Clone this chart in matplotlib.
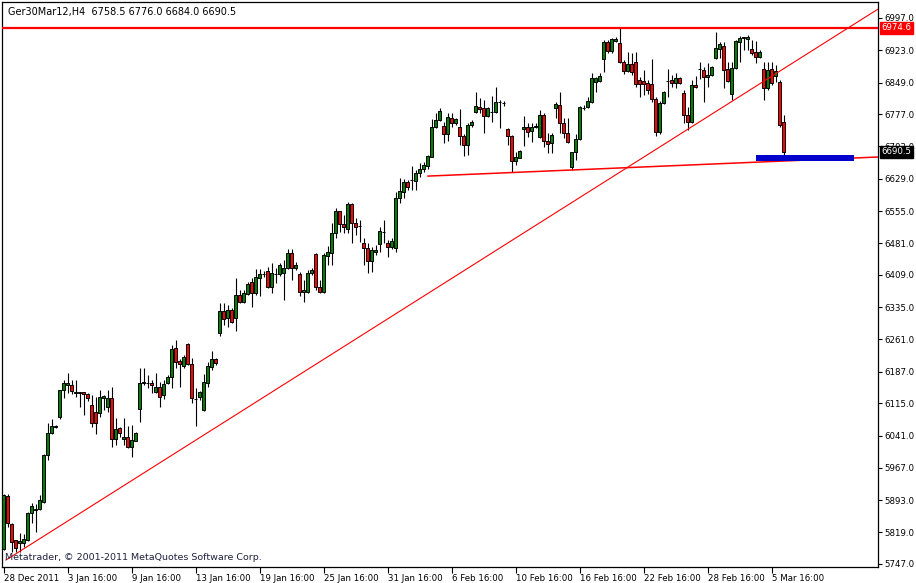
import matplotlib
matplotlib.use("Agg")
import matplotlib.pyplot as plt
from matplotlib.patches import Rectangle

# H4 bars (price units)
opens = [5781, 5903, 5839, 5802, 5795, 5795, 5802, 5864, 5871, 5873,
         5889, 5997, 6047, 6060, 6084, 6145, 6157, 6157, 6141, 6138,
         6141, 6136, 6111, 6095, 6093, 6127, 6106, 6127, 6033, 6058,
         6033, 6038, 6015, 6029, 6102, 6161, 6162, 6161, 6141, 6152,
         6134, 6161, 6175, 6241, 6212, 6200, 6251, 6205, 6125, 6129,
         6100, 6161, 6198, 6216, 6276, 6326, 6310, 6329, 6310, 6363,
         6347, 6365, 6393, 6367, 6402, 6411, 6418, 6381, 6411, 6411,
         6413, 6425, 6459, 6425, 6411, 6370, 6370, 6413, 6457, 6381,
         6370, 6452, 6459, 6505, 6555, 6525, 6514, 6571, 6528, 6521,
         6482, 6470, 6441, 6461, 6480, 6507, 6482, 6473, 6470, 6585,
         6599, 6622, 6626, 6623, 6642, 6651, 6658, 6679, 6747, 6764,
         6750, 6731, 6768, 6757, 6747, 6727, 6706, 6752, 6782, 6793,
         6791, 6773, 6782, 6782, 6805, 6803, 6743, 6727, 6670, 6677,
         6743, 6747, 6738, 6747, 6725, 6775, 6715, 6711, 6791, 6798,
         6757, 6734, 6656, 6690, 6720, 6791, 6793, 6805, 6850, 6853,
         6903, 6942, 6921, 6944, 6940, 6896, 6876, 6892, 6896, 6855,
         6853, 6848, 6846, 6812, 6736, 6802, 6853, 6855, 6848, 6860,
         6825, 6775, 6759, 6844, 6880, 6878, 6862, 6867, 6905, 6926,
         6933, 6880, 6823, 6882, 6942, 6951, 6949, 6926, 6919, 6908,
         6880, 6837, 6880, 6864, 6850, 6758.5]
highs = [5907, 5907, 5841, 5802, 5818, 5816, 5866, 5886, 5884, 5905,
         5998, 6070, 6079, 6064, 6146, 6168, 6184, 6168, 6168, 6141,
         6141, 6138, 6134, 6129, 6145, 6134, 6145, 6152, 6081, 6061,
         6081, 6063, 6065, 6049, 6196, 6196, 6180, 6168, 6184, 6164,
         6168, 6180, 6248, 6260, 6216, 6226, 6253, 6219, 6150, 6143,
         6182, 6209, 6235, 6219, 6345, 6345, 6340, 6333, 6402, 6374,
         6374, 6393, 6402, 6422, 6422, 6418, 6427, 6436, 6425, 6436,
         6443, 6468, 6468, 6438, 6416, 6397, 6420, 6425, 6459, 6397,
         6459, 6475, 6528, 6562, 6555, 6546, 6576, 6573, 6539, 6535,
         6493, 6482, 6473, 6477, 6519, 6535, 6489, 6493, 6599, 6631,
         6628, 6626, 6658, 6649, 6665, 6667, 6683, 6766, 6780, 6791,
         6759, 6780, 6780, 6768, 6789, 6731, 6757, 6764, 6828, 6814,
         6809, 6793, 6818, 6839, 6809, 6807, 6745, 6729, 6690, 6695,
         6773, 6757, 6757, 6757, 6786, 6780, 6734, 6734, 6805, 6828,
         6768, 6768, 6690, 6731, 6796, 6798, 6816, 6871, 6862, 6871,
         6947, 6947, 6951, 6954, 6974, 6901, 6919, 6917, 6919, 6862,
         6878, 6855, 6903, 6816, 6807, 6830, 6880, 6867, 6871, 6862,
         6832, 6793, 6855, 6864, 6896, 6885, 6894, 6887, 6965, 6942,
         6942, 6896, 6896, 6947, 6956, 6954, 6958, 6947, 6944, 6924,
         6896, 6896, 6896, 6889, 6855, 6776.0]
lows = [5779, 5832, 5774, 5774, 5774, 5786, 5800, 5841, 5820, 5870,
        5887, 5985, 6045, 6058, 6079, 6127, 6138, 6136, 6129, 6106,
        6088, 6120, 6061, 6045, 6084, 6100, 6095, 6015, 6019, 6038,
        6019, 6013, 5992, 6028, 6072, 6157, 6150, 6139, 6139, 6106,
        6125, 6160, 6150, 6196, 6152, 6196, 6203, 6116, 6063, 6122,
        6097, 6152, 6191, 6203, 6269, 6294, 6290, 6299, 6280, 6345,
        6345, 6363, 6335, 6363, 6361, 6404, 6379, 6367, 6390, 6407,
        6351, 6422, 6397, 6420, 6361, 6347, 6367, 6408, 6374, 6367,
        6367, 6431, 6431, 6493, 6507, 6505, 6505, 6482, 6500, 6484,
        6432, 6413, 6416, 6454, 6461, 6482, 6450, 6468, 6461, 6573,
        6585, 6603, 6603, 6603, 6633, 6644, 6651, 6679, 6745, 6761,
        6711, 6715, 6747, 6752, 6706, 6681, 6683, 6747, 6780, 6780,
        6734, 6770, 6759, 6780, 6745, 6796, 6706, 6644, 6660, 6676,
        6704, 6725, 6713, 6745, 6722, 6702, 6688, 6688, 6768, 6734,
        6722, 6711, 6649, 6672, 6718, 6786, 6791, 6802, 6828, 6850,
        6873, 6917, 6917, 6942, 6894, 6869, 6873, 6867, 6839, 6816,
        6821, 6823, 6805, 6727, 6731, 6800, 6816, 6839, 6837, 6846,
        6757, 6741, 6757, 6837, 6857, 6805, 6839, 6864, 6903, 6905,
        6837, 6850, 6809, 6880, 6896, 6924, 6924, 6912, 6894, 6905,
        6809, 6832, 6843, 6851, 6747, 6684.0]
closes = [5905, 5841, 5797, 5784, 5800, 5804, 5864, 5880, 5873, 5894,
          5997, 6047, 6063, 6062, 6145, 6161, 6161, 6143, 6138, 6141,
          6136, 6127, 6070, 6070, 6129, 6132, 6127, 6033, 6056, 6047,
          6038, 6015, 6031, 6047, 6161, 6163, 6161, 6157, 6152, 6129,
          6159, 6175, 6239, 6209, 6205, 6221, 6205, 6127, 6124, 6141,
          6164, 6200, 6216, 6207, 6326, 6308, 6329, 6301, 6363, 6347,
          6367, 6388, 6367, 6404, 6411, 6410, 6381, 6413, 6411, 6432,
          6425, 6459, 6425, 6432, 6370, 6374, 6413, 6420, 6381, 6370,
          6454, 6461, 6505, 6555, 6525, 6519, 6571, 6528, 6519, 6520,
          6470, 6441, 6466, 6466, 6509, 6507, 6473, 6487, 6585, 6601,
          6622, 6610, 6626, 6642, 6651, 6660, 6681, 6747, 6764, 6784,
          6731, 6770, 6757, 6766, 6727, 6706, 6752, 6759, 6796, 6789,
          6773, 6791, 6782, 6805, 6804, 6802, 6727, 6670, 6679, 6693,
          6747, 6736, 6747, 6750, 6775, 6715, 6709, 6729, 6800, 6757,
          6734, 6713, 6690, 6720, 6793, 6791, 6807, 6860, 6860, 6864,
          6942, 6921, 6949, 6949, 6896, 6876, 6892, 6873, 6846, 6846,
          6846, 6832, 6812, 6736, 6802, 6828, 6853, 6848, 6860, 6848,
          6775, 6759, 6844, 6839, 6880, 6862, 6867, 6885, 6928, 6937,
          6878, 6853, 6882, 6944, 6951, 6953, 6954, 6917, 6908, 6919,
          6837, 6878, 6848, 6876, 6752, 6690.5]

price_ticks = [6997.0, 6923.0, 6849.0, 6777.0, 6703.0, 6629.0, 6555.0, 6481.0, 6409.0,
               6335.0, 6261.0, 6187.0, 6115.0, 6041.0, 5967.0, 5893.0, 5819.0, 5747.0]
time_labels = ['28 Dec 2011', '3 Jan 16:00', '9 Jan 16:00', '13 Jan 16:00', '19 Jan 16:00',
               '25 Jan 16:00', '31 Jan 16:00', '6 Feb 16:00', '10 Feb 16:00', '16 Feb 16:00',
               '22 Feb 16:00', '28 Feb 16:00', '5 Mar 16:00']
label_step = 16  # bars between time labels

resistance = 6974.6
bid = 6690.5
trend_up = [(0.6, 5756.0), (155.8, 6654.0)]     # ray, drawn to the right edge
support = [(106.1, 6635.0), (218.6, 6678.7)]
zone_bars = (188.1, 212.6)
zone_prices = (6670.0, 6683.0)

symbol = 'Ger30Mar12,H4'
fs = 6.2

fig = plt.figure(figsize=(9.16, 5.83), dpi=100)
ax = fig.add_axes([2 / 916, 16 / 583, 876 / 916, 565 / 583])
ax.set_xlim(-0.4, 218.6)
ax.set_ylim(5740.0, 7033.6)

n = len(closes)
idx = list(range(n))

# wicks
ax.vlines(idx, lows, highs, color='black', linewidth=0.8, zorder=2)
# bodies
for i in idx:
    o, c = opens[i], closes[i]
    fill = 'green' if c > o else ('red' if c < o else 'black')
    ax.add_patch(Rectangle((i - 0.3, min(o, c)), 0.6, abs(c - o),
                           facecolor=fill, edgecolor='black', linewidth=0.7, zorder=3))

# objects
ax.axhline(resistance, color='red', linewidth=1.6, zorder=4)
(x1, y1), (x2, y2) = trend_up
slope = (y2 - y1) / (x2 - x1)
xr = ax.get_xlim()[1]
ax.plot([x1, xr], [y1, y1 + slope * (xr - x1)], color='red', linewidth=0.8, zorder=4)
ax.plot([p[0] for p in support], [p[1] for p in support], color='red', linewidth=1.1, zorder=4)
ax.add_patch(Rectangle((zone_bars[0], zone_prices[0]), zone_bars[1] - zone_bars[0],
                       zone_prices[1] - zone_prices[0], facecolor='#0000cc',
                       edgecolor='none', zorder=5))

# axes style
for s in ax.spines.values():
    s.set_linewidth(0.9)
    s.set_color('black')
ax.yaxis.tick_right()
ax.set_yticks(price_ticks)
ax.set_yticklabels(['%.1f' % v for v in price_ticks])
ax.tick_params(axis='y', direction='out', length=3, width=0.8, pad=1.5, labelsize=fs)

tick_pos = [k * label_step for k in range(len(time_labels))]
ax.set_xticks(tick_pos)
ax.set_xticklabels(time_labels, ha='left')
ax.tick_params(axis='x', direction='out', length=4, width=0.8, pad=1, labelsize=fs)

# price tags on the scale
ax.annotate('%.1f' % resistance, xy=(1.004, resistance), xycoords=('axes fraction', 'data'),
            ha='left', va='center', fontsize=fs, color='white', annotation_clip=False,
            bbox=dict(boxstyle='square,pad=0.15', facecolor='red', edgecolor='red'), zorder=10)
ax.annotate('%.1f' % bid, xy=(1.004, bid), xycoords=('axes fraction', 'data'),
            ha='left', va='center', fontsize=fs, color='white', annotation_clip=False,
            bbox=dict(boxstyle='square,pad=0.15', facecolor='black', edgecolor='black'), zorder=10)

# header and copyright
ax.text(0.007, 0.982, '%s  %.1f %.1f %.1f %.1f' % (symbol, opens[-1], highs[-1], lows[-1], closes[-1]),
        transform=ax.transAxes, fontsize=7, ha='left', va='center', zorder=10)
ax.text(0.003, 0.017, 'Metatrader, \u00a9 2001-2011 MetaQuotes Software Corp.',
        transform=ax.transAxes, fontsize=6.8, ha='left', va='center', color='#202040', zorder=10)

fig.savefig('out.png', dpi=100)
